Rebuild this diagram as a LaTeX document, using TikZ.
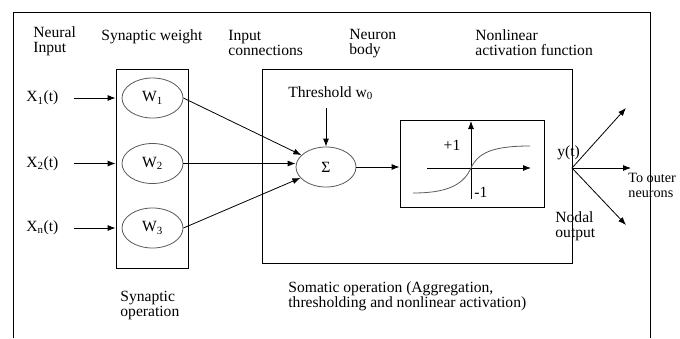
\documentclass[tikz,border=0pt]{standalone}
\usepackage{fontspec}
\setmainfont{Liberation Serif}
\usetikzlibrary{arrows.meta,shapes.geometric}

\tikzset{
  txt/.style={anchor=north west, inner sep=0pt, align=left},
  wcell/.style={draw=black!65, ellipse, minimum width=61, minimum height=40, inner sep=0pt},
}

\begin{document}
\begin{tikzpicture}[x=1pt, y=-1pt, line width=0.8pt, >={Latex[length=8pt,width=6pt]},
    font=\fontsize{15.6}{15}\selectfont]
  \useasboundingbox (0,0) rectangle (680,338);
  \draw (13,338) -- (13,12) -- (650,12) -- (650,338);

  % headings
  \node[txt] (hin)   at (33,26)  {Neural\\Input};
  \node[txt] (hsyn)  at (101,29) {Synaptic weight};
  \node[txt] (hcon)  at (228,30) {Input\\connections};
  \node[txt] (hbody) at (349,29) {Neuron\\body};
  \node[txt] (hact)  at (475,29) {Nonlinear\\activation function};

  % synaptic part
  \node[draw, minimum width=72, minimum height=199, inner sep=0pt] (syn) at (152,168.5) {};
  \foreach \i/\y/\xt in {1/98/X\textsubscript{1}(t), 2/163.5/X\textsubscript{2}(t), 3/228/X\textsubscript{n}(t)}{
    \node[wcell] (w\i) at (152.5,\y) {W\textsubscript{\i}};
    \node[anchor=west, inner sep=0pt] (x\i) at (26,\y) {\xt};
    \draw[->] ([xshift=15]x\i.east) -- (x\i -| syn.west);
  }

  % neuron body
  \node[draw, minimum width=310, minimum height=194, inner sep=0pt] (body) at (417,166) {};
  \node[draw=black!65, ellipse, minimum width=60, minimum height=40, inner sep=0pt] (sum) at (326,167) {Σ};
  \node[txt] (thr) at (288,86) {Threshold w\textsubscript{0}};
  \draw[->] (sum.north |- 0,108) -- (sum.north);
  \draw[->] (w1.east) -- (sum);
  \draw[->] (w2.east) -- (w2.east -| sum.west);
  \draw[->] (w3.east) -- (sum);

  % activation function
  \node[draw, minimum width=144, minimum height=87, inner sep=0pt] (act) at (472,163.5) {};
  \draw[->] (sum.east) -- (sum.east -| act.west);
  \draw[->] (427,168) -- (531,168);
  \draw[->] (471,199) -- (471,121);
  \draw[black!65] (413,193) .. controls (445,193) and (463,186) .. (471,168)
    .. controls (478,153) and (492,146) .. (530,146);
  \node (plus) at (452,145) {+1};
  \node[anchor=west, inner sep=0pt] (minus) at (474,192) {-1};

  % output
  \coordinate (yout) at (572,168);
  \coordinate (o1) at (626,108);
  \coordinate (o2) at (631,168);
  \coordinate (o3) at (626,225);
  \node[txt] (ylbl) at (557,145) {y(t)};
  \foreach \o in {o1,o2,o3}
    \draw[->] (yout) -- (\o);
  \node[txt, font=\fontsize{14.2}{14.5}\selectfont] (touter) at (628,173) {To outer\\neurons};
  \node[txt] (nodal) at (555,211) {Nodal\\output};

  % bottom notes
  \node[txt] (synop) at (120,291) {Synaptic\\operation};
  \node[txt] (somop) at (288,281) {Somatic operation (Aggregation,\\thresholding and nonlinear activation)};
\end{tikzpicture}
\end{document}
